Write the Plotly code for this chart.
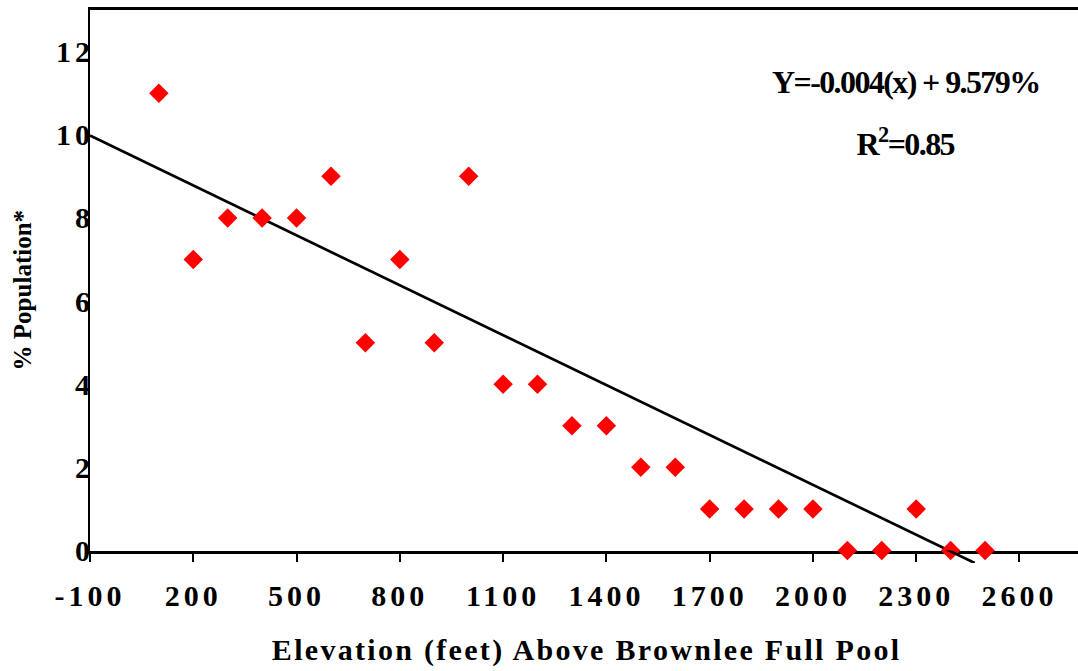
import json
import plotly.graph_objects as go

# ---- data ----
elevation = [100, 200, 300, 400, 500, 600, 700, 800, 900, 1000, 1100, 1200, 1300,
             1400, 1500, 1600, 1700, 1800, 1900, 2000, 2100, 2200, 2300, 2400, 2500]
pct_population = [11, 7, 8, 8, 8, 9, 5, 7, 5, 9, 4, 4, 3,
                  3, 2, 2, 1, 1, 1, 1, 0, 0, 1, 0, 0]
trend_x = [-100, 2470]
trend_y = [9.98, -0.30]
x_ticks = [-100, 200, 500, 800, 1100, 1400, 1700, 2000, 2300, 2600]
y_ticks = [0, 2, 4, 6, 8, 10, 12]
x_range = [-100, 2770]
y_range = [0, 13]
tail_range = [-0.3, 0]

equation_text = "Y=-0.004(x) + 9.579%"
r2_text = "R<sup>2</sup>=0.85"
x_title = "Elevation (feet) Above Brownlee Full Pool"
y_title = "% Population*"

SERIF = "Liberation Serif, Times New Roman, serif"

total_span = (y_range[1] - y_range[0]) + (tail_range[1] - tail_range[0])
tail_frac = (tail_range[1] - tail_range[0]) / total_span

fig = go.Figure()

# trend line in main subplot
fig.add_trace(go.Scatter(x=trend_x, y=trend_y, mode="lines",
                         line=dict(color="black", width=2.7),
                         showlegend=False, hoverinfo="skip"))
# trend line tail below the x axis (same scale)
fig.add_trace(go.Scatter(x=trend_x, y=trend_y, mode="lines",
                         line=dict(color="black", width=2.7),
                         xaxis="x2", yaxis="y2",
                         showlegend=False, hoverinfo="skip"))
# data points
fig.add_trace(go.Scatter(x=elevation, y=pct_population, mode="markers",
                         marker=dict(symbol="diamond", size=15, color="#FF0000",
                                     line=dict(width=0)),
                         cliponaxis=False, showlegend=False))

fig.update_layout(
    width=1078, height=671,
    margin=dict(l=90, r=0, t=10, b=108),
    paper_bgcolor="white", plot_bgcolor="white",
    xaxis=dict(range=x_range, tickmode="array", tickvals=x_ticks,
               ticktext=[str(v) for v in x_ticks],
               showline=True, linecolor="black", linewidth=2.5, mirror=True,
               ticks="outside", ticklen=9, tickwidth=2, tickcolor="black",
               showgrid=False, zeroline=False, anchor="y", layer="below traces",
               tickfont=dict(family=SERIF, size=30, color="black", weight="bold"),
               ticklabelstandoff=8),
    yaxis=dict(range=y_range, domain=[tail_frac, 1], tickmode="array",
               tickvals=y_ticks, ticktext=[str(v) for v in y_ticks],
               showline=True, linecolor="black", linewidth=2,
               ticks="", showgrid=False, zeroline=False, layer="below traces",
               tickfont=dict(family=SERIF, size=30, color="black", weight="bold"),
               ticklabelstandoff=-12),
    xaxis2=dict(matches="x", anchor="y2", visible=False),
    yaxis2=dict(range=tail_range, domain=[0, tail_frac], visible=False),
    annotations=[
        dict(text=equation_text, xref="paper", yref="paper", x=0.826, y=0.870,
             xanchor="center", yanchor="middle", showarrow=False,
             font=dict(family=SERIF, size=32, color="black", weight="bold")),
        dict(text=r2_text, xref="paper", yref="paper", x=0.825, y=0.761,
             xanchor="center", yanchor="middle", showarrow=False,
             font=dict(family=SERIF, size=32, color="black", weight="bold")),
        dict(text=x_title, xref="paper", yref="paper", x=0.503, y=-0.157,
             xanchor="center", yanchor="middle", showarrow=False,
             font=dict(family=SERIF, size=30, color="black", weight="bold")),
        dict(text=y_title, xref="paper", yref="paper", x=-0.0688, y=0.493,
             xanchor="center", yanchor="middle", showarrow=False, textangle=-90,
             font=dict(family=SERIF, size=25, color="black", weight="bold")),
    ],
)

css = ("html,body{margin:0;padding:0;overflow:hidden}"
       ".xtick text{letter-spacing:4px}"
       ".ytick text{letter-spacing:4px}"
       ".annotation[data-index='0'] text{letter-spacing:-1.6px}"
       ".annotation[data-index='1'] text{letter-spacing:-1.6px}"
       ".annotation[data-index='2'] text{letter-spacing:2.3px}")
post = ("var s=document.createElement('style');s.innerHTML=" + json.dumps(css) +
        ";document.head.appendChild(s);")

fig.write_html("out.html", post_script=post, config={"displayModeBar": False})
